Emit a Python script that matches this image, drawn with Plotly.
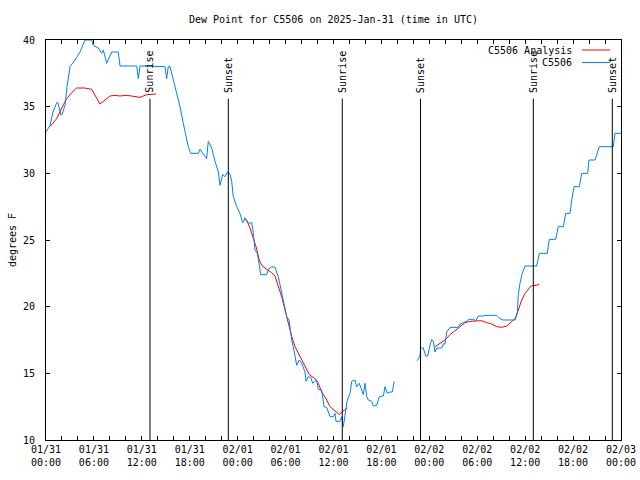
import pandas as pd
import plotly.graph_objects as go

BASE = pd.Timestamp("2025-01-31 00:00")

# Observations C5506: hours since 01/31 00:00 UTC, dew point (F); None = gap
obs_hours = [0.00, 0.50, 0.88, 1.34, 1.50, 1.84, 2.00, 2.38, 2.63, 3.01, 3.63, 4.26, 4.88, 5.72,
             5.92, 6.55, 6.97, 7.18, 7.60, 8.01, 8.23, 9.05, 9.27, 11.36, 11.56, 11.77, 14.90,
             15.11, 15.31, 15.53, 15.74, 16.15, 16.78, 17.19, 17.82, 18.12, 19.07, 19.28, 19.70,
             20.12, 20.32, 20.75, 21.16, 21.58, 21.79, 22.13, 22.41, 22.75, 23.04, 23.25, 23.45,
             23.88, 24.29, 24.63, 24.92, 25.33, 25.76, 25.96, 26.17, 26.46, 26.71, 26.88, 27.64,
             27.84, 28.26, 28.67, 29.09, 29.51, 29.93, 30.14, 30.43, 30.77, 31.05, 31.39, 31.72,
             32.02, 32.43, 32.56, 32.84, 33.15, 33.40, 33.90, 34.10, 34.52, 34.81, 35.15, 35.56,
             35.98, 36.19, 36.31, 36.81, 37.03, 37.23, 37.35, 37.57, 37.73, 38.07, 38.28, 38.69,
             38.90, 39.23, 39.53, 39.73, 39.94, 40.16, 40.36, 40.78, 40.98, 41.41, 41.74, 42.24,
             42.45, 42.74, 43.08, 43.36, 43.61, 45.0,
             46.49, 46.83, 46.92, 47.24, 47.55, 47.80, 48.08, 48.30, 48.50, 48.71, 48.92, 49.55,
             49.75, 49.96, 50.18, 50.59, 51.63, 51.84, 52.26, 52.68, 52.88, 53.51, 53.84, 54.13,
             54.76, 54.97, 56.44, 56.85, 57.26, 58.73, 59.02, 59.14, 59.35, 59.64, 59.98, 61.44,
             61.77, 62.77, 63.02, 63.82, 64.15, 64.78, 65.08, 65.61, 65.83, 66.12, 66.78, 67.08,
             67.83, 67.99, 68.75, 69.28, 71.03, 71.25, 72.00]
obs_dewpt = [33.1, 33.6, 34.6, 35.3, 35.3, 34.4, 34.4, 35.1, 36.5, 38.0, 38.5, 39.1, 40.0, 40.0,
             39.6, 39.4, 39.0, 39.25, 38.25, 38.75, 39.1, 39.1, 38.05, 38.05, 37.1, 38.05, 38.0,
             37.1, 38.0, 38.0, 37.5, 36.5, 35.0, 33.75, 32.0, 31.5, 31.5, 31.8, 31.4,
             31.1, 32.4, 31.9, 30.9, 30.1, 29.1, 29.9, 29.75, 30.1, 29.95, 29.4, 28.25,
             27.5, 27.0, 26.3, 26.6, 26.25, 26.3, 25.5, 24.25, 24.0, 23.1, 22.4, 22.4,
             22.8, 23.0, 22.95, 22.25, 21.0, 20.0, 19.25, 19.0, 17.5, 16.75, 15.6, 16.0,
             15.75, 15.1, 14.4, 14.75, 14.7, 14.25, 14.5, 13.8, 13.75, 12.5, 12.45, 11.75,
             11.75, 12.0, 11.4, 11.4, 11.75, 11.0, 11.5, 12.4, 13.0, 13.5, 14.4, 14.5,
             14.0, 14.25, 13.75, 13.4, 14.25, 13.25, 13.0, 12.9, 12.55, 12.6, 13.25, 13.3,
             14.0, 13.5, 13.6, 13.6, 14.4, None,
             15.95, 16.3, 16.9, 16.9, 16.3, 16.3, 17.1, 17.55, 17.4, 16.6, 16.9, 16.9,
             17.2, 17.2, 18.1, 18.45, 18.45, 18.7, 18.8, 18.9, 19.05, 19.05, 18.95, 19.3,
             19.3, 19.35, 19.35, 19.1, 19.0, 19.0, 19.5, 20.9, 21.75, 22.5, 23.05, 23.05,
             24.0, 24.0, 25.05, 25.05, 26.0, 26.0, 27.0, 27.0, 28.0, 29.0, 29.0, 30.0,
             30.0, 31.0, 31.0, 32.0, 32.0, 33.0, 33.0]

# Analysis C5506
ana_hours = [0.50, 1.34, 1.97, 2.59, 3.22, 3.84, 4.88, 5.72, 6.76, 7.39, 8.01, 8.64, 9.27, 10.11,
             10.93, 11.77, 12.61, 13.77, 18.0,
             24.79, 25.13, 25.54, 25.96, 26.30, 26.71, 27.01, 27.64, 28.26, 28.67, 29.09, 29.51,
             29.93, 30.34, 30.77, 31.18, 31.81, 32.43, 32.97, 33.68, 34.10, 34.52, 35.06, 35.56,
             36.19, 36.73, 37.03, 37.32, 37.73, 42.0,
             48.71, 49.34, 49.96, 50.59, 51.22, 51.84, 52.47, 53.09, 53.72, 54.56, 55.18, 55.81,
             56.44, 57.06, 57.69, 58.32, 58.73, 59.14, 59.57, 59.98, 60.35, 60.73, 61.36, 61.77]
ana_dewpt = [33.5, 34.1, 34.9, 35.6, 36.05, 36.4, 36.4, 36.3, 35.2, 35.5, 35.8, 35.85, 35.8, 35.85,
             35.8, 35.7, 35.9, 35.95, None,
             26.7, 26.5, 25.9, 25.2, 24.5, 23.5, 23.1, 22.8, 22.55, 22.3, 21.6, 20.75,
             19.75, 18.75, 17.75, 17.0, 16.25, 15.5, 14.9, 14.6, 14.25, 13.6, 13.1, 12.5,
             12.2, 11.9, 12.1, 12.2, 12.4, None,
             17.0, 17.25, 17.5, 17.9, 18.2, 18.55, 18.8, 18.9, 18.9, 18.95, 18.8, 18.7,
             18.5, 18.45, 18.55, 18.9, 19.1, 19.75, 20.5, 21.0, 21.3, 21.55, 21.6, 21.7]

# Sun events (hours since start)
event_hours = [13.02, 22.83, 37.10, 46.89, 61.02, 70.91]
event_names = ["Sunrise", "Sunset", "Sunrise", "Sunset", "Sunrise", "Sunset"]

FONT = "DejaVu Sans Mono"
FS = 10

def to_time(hours):
    return [BASE + pd.Timedelta(hours=h) for h in hours]

fig = go.Figure()
fig.add_trace(go.Scatter(x=to_time(ana_hours), y=ana_dewpt, mode="lines",
                         line=dict(color="#ff0000", width=1), name="C5506 Analysis",
                         connectgaps=False))
fig.add_trace(go.Scatter(x=to_time(obs_hours), y=obs_dewpt, mode="lines",
                         line=dict(color="#0080ff", width=1), name="C5506",
                         connectgaps=False))

for h, name in zip(event_hours, event_names):
    t = BASE + pd.Timedelta(hours=h)
    fig.add_shape(type="line", x0=t, x1=t, y0=10, y1=35.6, xref="x", yref="y",
                  line=dict(color="black", width=1))
    fig.add_annotation(x=t, y=35.9, xref="x", yref="y", text=name, textangle=-90,
                       showarrow=False, xanchor="center", yanchor="bottom",
                       font=dict(family=FONT, size=FS, color="black"))

# gnuplot-style legend (text right, sample line on the right)
legend_items = [("C5506 Analysis", "#ff0000"), ("C5506", "#0080ff")]
for i, (label, color) in enumerate(legend_items):
    ypos = 1 - (10 + 12.5 * i) / 400
    fig.add_annotation(x=(574 - 46) / 575, y=ypos, xref="paper", yref="paper", text=label,
                       showarrow=False, xanchor="right", yanchor="middle",
                       font=dict(family=FONT, size=FS, color="black"))
    fig.add_shape(type="line", xref="paper", yref="paper",
                  x0=(582 - 46) / 575, x1=(610 - 46) / 575, y0=ypos, y1=ypos,
                  line=dict(color=color, width=1))

fig.update_layout(
    width=640, height=480,
    margin=dict(l=46, r=19, t=40, b=40, autoexpand=False),
    paper_bgcolor="white", plot_bgcolor="white",
    showlegend=False,
    font=dict(family=FONT, size=FS, color="black"),
    title=dict(text="Dew Point for C5506 on 2025-Jan-31 (time in UTC)", x=(46 + 621) / 2 / 640,
               xanchor="center", y=1 - 19 / 480, yanchor="middle",
               font=dict(family=FONT, size=FS, color="black")),
)
fig.update_xaxes(
    range=[BASE, BASE + pd.Timedelta(hours=72)], automargin=False,
    dtick=6 * 3600 * 1000, tick0=BASE, tickformat="%m/%d<br>%H:%M",
    ticks="inside", ticklen=4, tickcolor="black", mirror="allticks",
    showline=True, linecolor="black", linewidth=1, showgrid=False, zeroline=False,
    minor=dict(dtick=2 * 3600 * 1000, ticks="inside", ticklen=4, tickcolor="black",
               showgrid=False),
    tickfont=dict(family=FONT, size=FS),
)
fig.update_yaxes(
    range=[10, 40], dtick=5, ticks="inside", ticklen=4, tickcolor="black", mirror="allticks",
    showline=True, linecolor="black", linewidth=1, showgrid=False, zeroline=False,
    automargin=False,
    title=dict(text="degrees F", font=dict(family=FONT, size=FS), standoff=4),
    tickfont=dict(family=FONT, size=FS), ticklabelstandoff=8,
)

fig.write_html("out.html")
